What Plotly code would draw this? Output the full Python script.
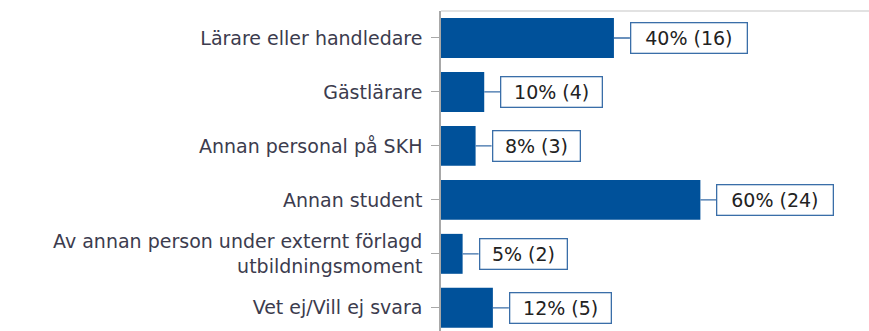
import plotly.graph_objects as go

categories = [
    "Lärare eller handledare",
    "Gästlärare",
    "Annan personal på SKH",
    "Annan student",
    "Av annan person under externt förlagd<br>utbildningsmoment",
    "Vet ej/Vill ej svara",
]
percent = [40, 10, 8, 60, 5, 12]
counts = [16, 4, 3, 24, 2, 5]

BAR = "#00519a"
BOX = "#3a6ea8"
FONT = "DejaVu Sans, Verdana, sans-serif"

fig = go.Figure(
    go.Bar(
        y=categories,
        x=percent,
        orientation="h",
        marker=dict(color=BAR, line=dict(width=0)),
        width=0.74,
        hoverinfo="skip",
    )
)

for cat, p, n in zip(categories, percent, counts):
    label = f"{p}% ({n})"
    fig.add_annotation(
        x=p,
        y=cat,
        text=label,
        showarrow=True,
        arrowhead=0,
        arrowwidth=1.3,
        arrowcolor=BOX,
        axref="pixel",
        ayref="pixel",
        ax=16,
        ay=0,
        xanchor="left",
        standoff=0,
        startstandoff=0,
        width=14.4 * len(label) - 8,
        height=21,
        align="center",
        bgcolor="white",
        bordercolor=BOX,
        borderwidth=1.3,
        borderpad=4,
        font=dict(family=FONT, size=19, color="#222222"),
    )

# thin frame line along the top of the plot area
fig.add_shape(
    type="line", xref="paper", yref="paper",
    x0=0, x1=1, y0=1, y1=1,
    line=dict(color="#d9d9d9", width=1.5),
)

fig.update_layout(
    width=869,
    height=331,
    margin=dict(l=441, r=0, t=11, b=0),
    paper_bgcolor="white",
    plot_bgcolor="white",
    showlegend=False,
    font=dict(family=FONT, size=19, color="#3c3c4e"),
    xaxis=dict(
        range=[0, 99],
        showgrid=False,
        zeroline=False,
        showticklabels=False,
        showline=False,
        fixedrange=True,
    ),
    yaxis=dict(
        categoryorder="array",
        categoryarray=categories,
        range=[5.43, -0.5],
        showgrid=False,
        showline=True,
        linecolor="#a8a8a8",
        linewidth=1.5,
        ticks="outside",
        ticklen=8,
        tickcolor="#a8a8a8",
        ticklabelstandoff=5,
        tickfont=dict(family=FONT, size=19, color="#3c3c4e"),
        fixedrange=True,
    ),
)

fig.write_html("out.html")
